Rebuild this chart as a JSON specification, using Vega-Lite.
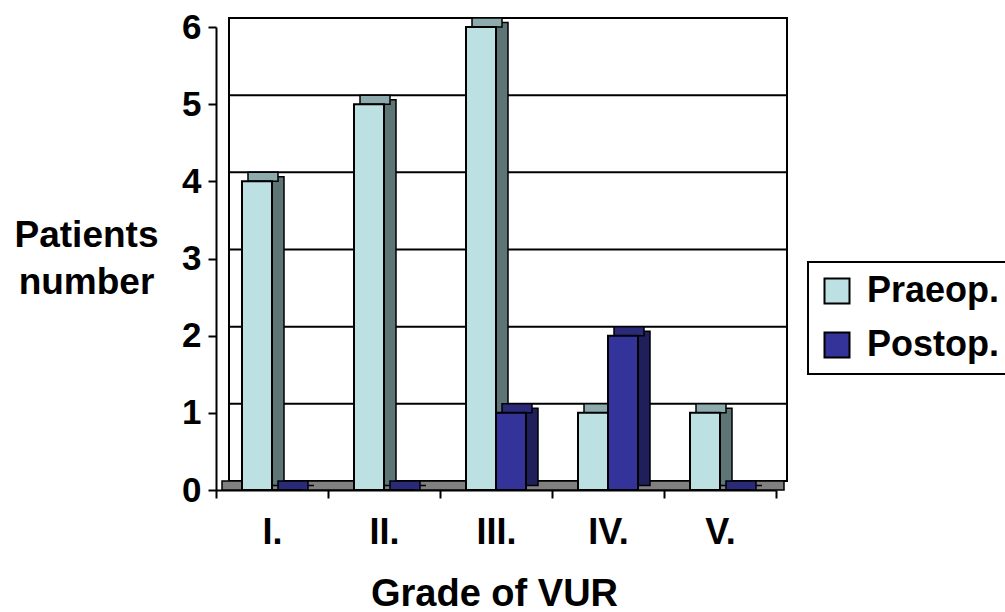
{
  "$schema": "https://vega.github.io/schema/vega-lite/v6.json",
  "autosize": "none",
  "padding": {"left": 216, "top": 27, "right": 229, "bottom": 122},
  "width": 560,
  "height": 463,
  "background": "white",
  "data": {"values": [
    {"grade": "I.", "series": "Praeop.", "value": 4},
    {"grade": "II.", "series": "Praeop.", "value": 5},
    {"grade": "III.", "series": "Praeop.", "value": 6},
    {"grade": "IV.", "series": "Praeop.", "value": 1},
    {"grade": "V.", "series": "Praeop.", "value": 1},
    {"grade": "I.", "series": "Postop.", "value": 0},
    {"grade": "II.", "series": "Postop.", "value": 0},
    {"grade": "III.", "series": "Postop.", "value": 1},
    {"grade": "IV.", "series": "Postop.", "value": 2},
    {"grade": "V.", "series": "Postop.", "value": 0}
  ]},
  "layer": [
    {
      "data": {"values": [{}]},
      "mark": {"type": "rect", "fill": "white", "stroke": "black", "strokeWidth": 2, "xOffset": 13, "x2Offset": 11, "yOffset": -9, "y2Offset": -9},
      "encoding": {
        "x": {"value": 0},
        "x2": {"value": {"expr": "width"}},
        "y": {"datum": 6, "type": "quantitative", "scale": {"domain": [0, 6], "nice": false}, "title": ["Patients", "number"]},
        "y2": {"datum": 0}
      }
    },
    {
      "data": {"values": [{"v": 1}, {"v": 2}, {"v": 3}, {"v": 4}, {"v": 5}]},
      "mark": {"type": "rule", "color": "black", "strokeWidth": 2, "xOffset": 13, "x2Offset": 11, "yOffset": -9},
      "encoding": {
        "x": {"value": 0},
        "x2": {"value": {"expr": "width"}},
        "y": {"field": "v", "type": "quantitative", "scale": {"domain": [0, 6], "nice": false}, "title": ["Patients", "number"]}
      }
    },
    {
      "data": {"values": [{}]},
      "mark": {"type": "rect", "fill": "#808080", "stroke": "black", "strokeWidth": 1.5, "xOffset": 6, "x2Offset": 8, "yOffset": -9},
      "encoding": {
        "x": {"value": 0},
        "x2": {"value": {"expr": "width"}},
        "y": {"datum": 0, "type": "quantitative", "scale": {"domain": [0, 6], "nice": false}, "title": ["Patients", "number"]},
        "y2": {"datum": 0}
      }
    },
    {
      "transform": [{"filter": "datum.series === 'Praeop.'"}],
      "mark": {"type": "bar", "width": 12, "xOffset": 6, "yOffset": -4.5, "y2Offset": -4.5, "fill": "#5E7576", "stroke": "black", "strokeWidth": 1.5},
      "encoding": {
        "x": {"field": "grade", "type": "nominal", "sort": ["I.", "II.", "III.", "IV.", "V."], "scale": {"paddingInner": 0, "paddingOuter": 0}, "title": "Grade of VUR"},
        "y": {"field": "value", "type": "quantitative", "scale": {"domain": [0, 6], "nice": false}, "title": ["Patients", "number"]},
        "y2": {"datum": 0}
      }
    },
    {
      "transform": [{"filter": "datum.series === 'Praeop.'"}],
      "mark": {"type": "bar", "width": 30, "xOffset": -9, "yOffset": -9, "fill": "#8DABAD", "stroke": "black", "strokeWidth": 1.5},
      "encoding": {
        "x": {"field": "grade", "type": "nominal", "sort": ["I.", "II.", "III.", "IV.", "V."], "scale": {"paddingInner": 0, "paddingOuter": 0}, "title": "Grade of VUR"},
        "y": {"field": "value", "type": "quantitative", "scale": {"domain": [0, 6], "nice": false}, "title": ["Patients", "number"]},
        "y2": {"field": "value"}
      }
    },
    {
      "transform": [{"filter": "datum.series === 'Praeop.'"}],
      "mark": {"type": "bar", "width": 30, "xOffset": -15, "stroke": "black", "strokeWidth": 2},
      "encoding": {
        "x": {"field": "grade", "type": "nominal", "sort": ["I.", "II.", "III.", "IV.", "V."], "scale": {"paddingInner": 0, "paddingOuter": 0}, "title": "Grade of VUR"},
        "y": {"field": "value", "type": "quantitative", "scale": {"domain": [0, 6], "nice": false}, "title": ["Patients", "number"]},
        "fill": {"field": "series", "type": "nominal", "scale": {"domain": ["Praeop.", "Postop."], "range": ["#BDE1E3", "#333399"]}, "legend": {"title": null}}
      }
    },
    {
      "transform": [{"filter": "datum.series === 'Postop.'"}],
      "mark": {"type": "bar", "width": 12, "xOffset": 36, "yOffset": -4.5, "y2Offset": -4.5, "fill": "#1F1F5C", "stroke": "black", "strokeWidth": 1.5},
      "encoding": {
        "x": {"field": "grade", "type": "nominal", "sort": ["I.", "II.", "III.", "IV.", "V."], "scale": {"paddingInner": 0, "paddingOuter": 0}, "title": "Grade of VUR"},
        "y": {"field": "value", "type": "quantitative", "scale": {"domain": [0, 6], "nice": false}, "title": ["Patients", "number"]},
        "y2": {"datum": 0}
      }
    },
    {
      "transform": [{"filter": "datum.series === 'Postop.'"}],
      "mark": {"type": "bar", "width": 30, "xOffset": 21, "yOffset": -9, "fill": "#2A2A78", "stroke": "black", "strokeWidth": 1.5},
      "encoding": {
        "x": {"field": "grade", "type": "nominal", "sort": ["I.", "II.", "III.", "IV.", "V."], "scale": {"paddingInner": 0, "paddingOuter": 0}, "title": "Grade of VUR"},
        "y": {"field": "value", "type": "quantitative", "scale": {"domain": [0, 6], "nice": false}, "title": ["Patients", "number"]},
        "y2": {"field": "value"}
      }
    },
    {
      "transform": [{"filter": "datum.series === 'Postop.'"}],
      "mark": {"type": "bar", "width": 30, "xOffset": 15, "stroke": "black", "strokeWidth": 2},
      "encoding": {
        "x": {"field": "grade", "type": "nominal", "sort": ["I.", "II.", "III.", "IV.", "V."], "scale": {"paddingInner": 0, "paddingOuter": 0}, "title": "Grade of VUR"},
        "y": {"field": "value", "type": "quantitative", "scale": {"domain": [0, 6], "nice": false}, "title": ["Patients", "number"]},
        "fill": {"field": "series", "type": "nominal", "scale": {"domain": ["Praeop.", "Postop."], "range": ["#BDE1E3", "#333399"]}, "legend": {"title": null}}
      }
    }
  ],
  "config": {
    "view": {"stroke": null},
    "font": "Liberation Sans",
    "axis": {
      "domainColor": "black",
      "domainWidth": 2,
      "tickColor": "black",
      "tickWidth": 2,
      "tickSize": 8,
      "grid": false,
      "labelFont": "Liberation Sans",
      "labelFontWeight": "bold",
      "labelColor": "black",
      "titleFont": "Liberation Sans",
      "titleFontWeight": "bold",
      "titleColor": "black"
    },
    "axisY": {
      "tickCount": 6,
      "labelFontSize": 35,
      "labelPadding": 7,
      "titleAngle": 0,
      "titleAlign": "center",
      "titleBaseline": "middle",
      "titleX": -130,
      "titleY": 208.5,
      "titleFontSize": 37,
      "titleLineHeight": 47
    },
    "axisX": {
      "tickBand": "extent",
      "labelAngle": 0,
      "labelFontSize": 36,
      "labelBaseline": "alphabetic",
      "labelPadding": 45,
      "titleBaseline": "alphabetic",
      "titleAlign": "center",
      "titleX": 278,
      "titleY": 115,
      "titleFontSize": 38
    },
    "legend": {
      "orient": "none",
      "legendX": 592,
      "legendY": 235,
      "padding": 11,
      "rowPadding": 18,
      "strokeColor": "black",
      "strokeWidth": 2,
      "fillColor": "white",
      "symbolType": "square",
      "symbolSize": 625,
      "symbolStrokeColor": "black",
      "symbolStrokeWidth": 2,
      "labelFont": "Liberation Sans",
      "labelFontWeight": "bold",
      "labelFontSize": 36,
      "labelColor": "black",
      "labelOffset": 12,
      "labelLimit": 300
    }
  }
}
